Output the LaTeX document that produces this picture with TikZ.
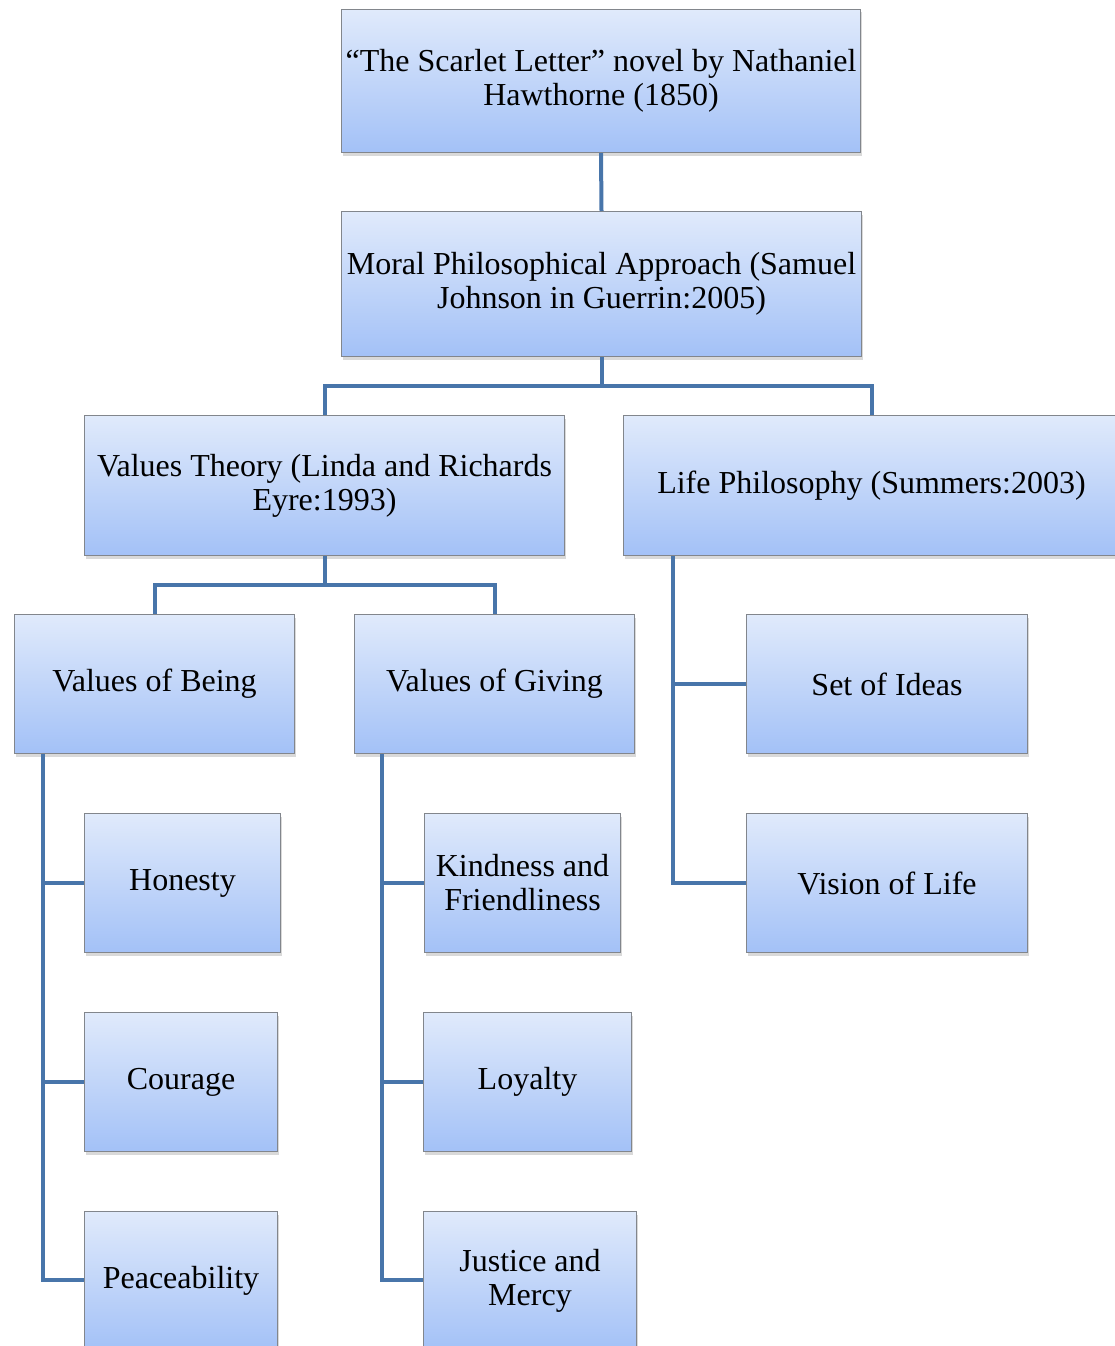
\documentclass[tikz,border=0pt]{standalone}
\usepackage{fontspec}
\setmainfont{Liberation Serif}
\usetikzlibrary{shadows}
\definecolor{topc}{RGB}{224,234,251}
\definecolor{botc}{RGB}{163,193,247}
\definecolor{edgec}{RGB}{130,134,140}
\definecolor{linec}{RGB}{72,117,170}
\tikzset{
  box/.style={draw=edgec, line width=1pt, top color=topc, bottom color=botc,
    anchor=north west, align=center, inner sep=0pt,
    font=\fontsize{32}{34}\selectfont,
    drop shadow={shadow xshift=1.5pt, shadow yshift=-3pt, opacity=0.25, fill=black!60}},
  conn/.style={draw=linec, line width=4pt}
}
\newcommand{\bx}[6]{\node[box, minimum width=#4pt, minimum height=#5pt] (#1) at (#2,#3) {#6};}
\begin{document}
\begin{tikzpicture}[x=1pt,y=-1pt]
\useasboundingbox (0,0) rectangle (1115,1346);
\bx{top}{341}{9}{519}{143}{“The Scarlet Letter” novel by Nathaniel\\Hawthorne (1850)}
\bx{moral}{341}{211}{520}{145}{Moral Philosophical Approach (Samuel\\Johnson in Guerrin:2005)}
\bx{vt}{84}{415}{480}{140}{Values Theory (Linda and Richards\\Eyre:1993)}
\bx{lp}{623}{415}{496}{140}{Life Philosophy (Summers:2003)}
\bx{vb}{14}{614}{280}{139}{Values of Being}
\bx{vg}{354}{614}{280}{139}{Values of Giving}
\bx{soi}{746}{614}{281}{139}{Set of Ideas}
\bx{vol}{746}{813}{281}{139}{Vision of Life}
\bx{hon}{84}{813}{196}{139}{Honesty}
\bx{kind}{424}{813}{196}{139}{Kindness and\\Friendliness}
\bx{cour}{84}{1012}{193}{139}{Courage}
\bx{loy}{423}{1012}{208}{139}{Loyalty}
\bx{peace}{84}{1211}{193}{139}{Peaceability}
\bx{just}{423}{1211}{213}{139}{Justice and\\Mercy}
\draw[conn] (top.south) -- (moral.north);
\draw[conn] (moral.south) -- ++(0,29) -| (vt.north);
\draw[conn] (moral.south) -- ++(0,29) -| (lp.north);
\draw[conn] (vt.south) -- ++(0,29) -| (vb.north);
\draw[conn] (vt.south) -- ++(0,29) -| (vg.north);
\draw[conn] ([xshift=50pt]lp.south west) |- (soi.west);
\draw[conn] ([xshift=50pt]lp.south west) |- (vol.west);
\draw[conn] ([xshift=29pt]vb.south west) |- (hon.west);
\draw[conn] ([xshift=29pt]vb.south west) |- (cour.west);
\draw[conn] ([xshift=29pt]vb.south west) |- ([yshift=-69pt]peace.north west);
\draw[conn] ([xshift=28pt]vg.south west) |- (kind.west);
\draw[conn] ([xshift=28pt]vg.south west) |- (loy.west);
\draw[conn] ([xshift=28pt]vg.south west) |- ([yshift=-69pt]just.north west);
\end{tikzpicture}
\end{document}
